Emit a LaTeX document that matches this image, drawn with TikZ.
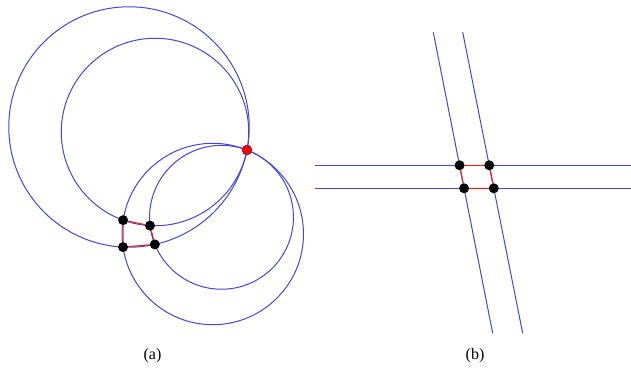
\documentclass[tikz,border=0pt]{standalone}
\usepackage{fontspec}
\setmainfont{Liberation Serif}
\usetikzlibrary{calc}
\definecolor{curveblue}{RGB}{70,70,210}
\definecolor{edgered}{RGB}{225,35,30}
\begin{document}
\begin{tikzpicture}[x=1pt,y=-1pt,
  circ/.style={draw=curveblue, line width=1pt},
  edge/.style={draw=edgered, line width=1.1pt},
  vtx/.style={circle, fill=black, inner sep=0pt, minimum size=10pt},
  pole/.style={circle, fill=red, draw=black!75, line width=0.6pt, inner sep=0pt, minimum size=10pt},
  lbl/.style={font=\fontsize{16}{18}\selectfont, inner sep=0pt}]
\useasboundingbox (0,0) rectangle (631,367);
% ---------- (a) ----------
\coordinate (P) at (247,150);
\coordinate (O1) at (129,127);
\coordinate (O2) at (155,132);
\coordinate (O3) at (212.8,234);
\coordinate (O4) at (221.5,217.3);
\foreach \i in {1,...,4}{
  \draw[circ] let \p1=($(P)-(O\i)$), \n1={veclen(\x1,\y1)} in (O\i) circle[radius=\n1];
}
\coordinate (F23) at ($(O2)!(P)!(O3)$);
\coordinate (F24) at ($(O2)!(P)!(O4)$);
\coordinate (F13) at ($(O1)!(P)!(O3)$);
\coordinate (F14) at ($(O1)!(P)!(O4)$);
\node[vtx] (A) at ($(P)!2!(F23)$) {};
\node[vtx] (B) at ($(P)!2!(F24)$) {};
\node[vtx] (C) at ($(P)!2!(F13)$) {};
\node[vtx] (D) at ($(P)!2!(F14)$) {};
\node[pole] (p) at (P) {};
\draw[edge] (A) -- (B);
\draw[edge] (B) -- (D);
\draw[edge] (D) -- (C);
\draw[edge] (C) -- (A);
% ---------- (b) ----------
\coordinate (h1l) at (315,165.3);
\coordinate (h1r) at (631,165.3);
\coordinate (h2l) at (315,188.3);
\coordinate (h2r) at (631,188.3);
\coordinate (v1t) at (433.3,32.3);
\coordinate (v1b) at (492.7,333.3);
\coordinate (v2t) at (462.7,32.3);
\coordinate (v2b) at (522.7,333.3);
\draw[circ] (h1l) -- (h1r);
\draw[circ] (h2l) -- (h2r);
\draw[circ] (v1t) -- (v1b);
\draw[circ] (v2t) -- (v2b);
\node[vtx] (A2) at (intersection of h1l--h1r and v1t--v1b) {};
\node[vtx] (B2) at (intersection of h1l--h1r and v2t--v2b) {};
\node[vtx] (C2) at (intersection of h2l--h2r and v1t--v1b) {};
\node[vtx] (D2) at (intersection of h2l--h2r and v2t--v2b) {};
\draw[edge] (A2) -- (B2);
\draw[edge] (B2) -- (D2);
\draw[edge] (D2) -- (C2);
\draw[edge] (C2) -- (A2);
% ---------- labels ----------
\node[lbl] (la) at (152.5,356) {(a)};
\node[lbl] (lb) at (475,356) {(b)};
\end{tikzpicture}
\end{document}
